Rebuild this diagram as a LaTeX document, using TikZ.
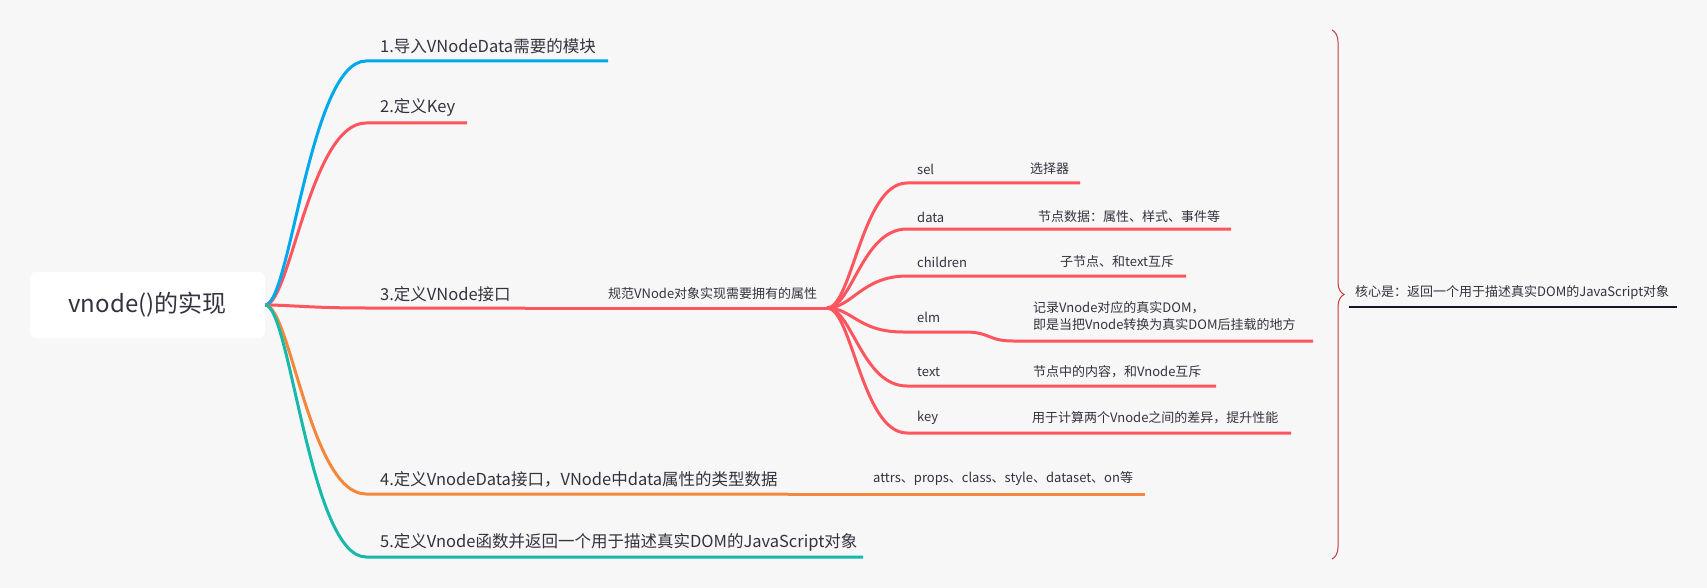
\documentclass[tikz,border=0pt]{standalone}
\usepackage{fontspec}
\setmainfont{Noto Sans CJK SC}
\usetikzlibrary{decorations.pathreplacing}

\definecolor{bg}{HTML}{F7F7F7}
\definecolor{txt}{HTML}{33333F}
\definecolor{cblue}{HTML}{00A8EC}
\definecolor{cred}{HTML}{FF555F}
\definecolor{corange}{HTML}{F5873A}
\definecolor{cteal}{HTML}{17B9AA}
\definecolor{cbrace}{HTML}{C43A3A}
\definecolor{cline}{HTML}{16162A}

\tikzset{
  br/.style={line width=3pt},
  maintext/.style={anchor=west, inner sep=0pt, text=txt, font=\fontsize{16.5}{20}\selectfont},
  subtext/.style={anchor=west, inner sep=0pt, text=txt, font=\fontsize{13}{17}\selectfont},
  twig/.style={br, cred},
}

\begin{document}
\begin{tikzpicture}[x=1pt, y=-1pt]
  \fill[bg] (0,0) rectangle (1707,588);
  \useasboundingbox (0,0) rectangle (1707,588);

  \node[fill=white, rounded corners=6pt, minimum width=235pt, minimum height=66pt,
        text=txt, font=\fontsize{24}{28}\selectfont] (root) at (147.5,305) {vnode()的实现};

  \node[maintext] (b1) at (380,46) {1.导入VNodeData需要的模块};
  \node[maintext] (b2) at (380,107) {2.定义Key};
  \node[maintext] (b3) at (380,294) {3.定义VNode接口};
  \node[maintext] (b4) at (380,479) {4.定义VnodeData接口，VNode中data属性的类型数据};
  \node[maintext] (b5) at (380,542) {5.定义Vnode函数并返回一个用于描述真实DOM的JavaScript对象};
  \node[subtext] (b3c) at (608,294) {规范VNode对象实现需要拥有的属性};
  \node[subtext] (b4c) at (873,479) {attrs、props、class、style、dataset、on等};

  \coordinate (b1s) at (366,61);  \coordinate (b1e) at (608,61);
  \coordinate (b2s) at (366,123); \coordinate (b2e) at (467,123);
  \coordinate (b3s) at (366,308); \coordinate (b3e) at (525,308);
  \coordinate (b4s) at (366,494); \coordinate (b4e) at (788,494);
  \coordinate (b5s) at (366,557); \coordinate (b5e) at (863,557);
  \coordinate (hub3) at (827,308);
  \coordinate (b4ce) at (1145,494);

  \draw[br, cred] (root.east) .. controls +(25,0) and +(-56,0) .. (b2s) -- (b2e);
  \draw[br, cblue] (root.east) .. controls +(25,0) and +(-56,0) .. (b1s) -- (b1e);
  \draw[br, cred] (root.east) .. controls +(25,0) and +(-56,0) .. (b3s) -- (b3e);
  \draw[br, cred] (b3e) -- (hub3);
  \draw[br, corange] (root.east) .. controls +(25,0) and +(-56,0) .. (b4s) -- (b4e);
  \draw[br, corange] (b4e) -- (b4ce);
  \draw[br, cteal] (root.east) .. controls +(25,0) and +(-56,0) .. (b5s) -- (b5e);

  % VNode 的属性
  \node[subtext] (sel) at (917,169) {sel};
  \node[subtext] (data) at (917,217) {data};
  \node[subtext] (children) at (917,262) {children};
  \node[subtext] (elm) at (917,317) {elm};
  \node[subtext] (text) at (917,372) {text};
  \node[subtext] (key) at (917,418) {key};
  \node[subtext] (selv) at (1030,169) {选择器};
  \node[subtext] (datav) at (1038,217) {节点数据：属性、样式、事件等};
  \node[subtext] (childrenv) at (1060,262) {子节点、和text互斥};
  \node[subtext, align=left] (elmv) at (1033,316) {记录Vnode对应的真实DOM，\\即是当把Vnode转换为真实DOM后挂载的地方};
  \node[subtext] (textv) at (1033,372) {节点中的内容，和Vnode互斥};
  \node[subtext] (keyv) at (1032,418) {用于计算两个Vnode之间的差异，提升性能};

  \coordinate (sel-s) at (907,183);      \coordinate (sel-e) at (1080,183);
  \coordinate (data-s) at (907,229);     \coordinate (data-e) at (1231,229);
  \coordinate (children-s) at (907,276); \coordinate (children-e) at (1186,276);
  \coordinate (text-s) at (907,386);     \coordinate (text-e) at (1216,386);
  \coordinate (key-s) at (907,433);      \coordinate (key-e) at (1291,433);
  \coordinate (elm-s) at (903,332);      \coordinate (elm-m) at (965,332);
  \coordinate (elm-n) at (1013,341);     \coordinate (elm-e) at (1313,341);

  \foreach \p in {sel,data,children,text,key}
    \draw[twig] (hub3) .. controls +(25,0) and +(-45,0) .. (\p-s) -- (\p-e);
  \draw[twig] (hub3) .. controls +(25,0) and +(-45,0) .. (elm-s) -- (elm-m)
    .. controls +(25,0) and +(-25,0) .. (elm-n) -- (elm-e);

  % 总结
  \draw[cbrace, line width=1pt, decorate, decoration={brace, amplitude=12pt}] (1332,30) -- (1332,559);
  \node[subtext] (core) at (1355,292) {核心是：返回一个用于描述真实DOM的JavaScript对象};
  \coordinate (core-s) at (1349,307); \coordinate (core-e) at (1677,307);
  \draw[cline, line width=2pt] (core-s) -- (core-e);
\end{tikzpicture}
\end{document}
